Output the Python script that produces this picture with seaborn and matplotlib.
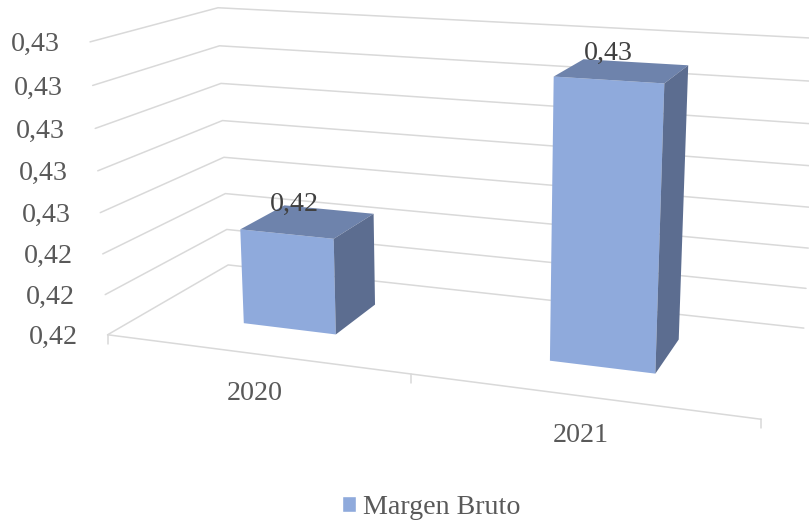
import numpy as np
import pandas as pd
import matplotlib
matplotlib.use("Agg")
import matplotlib.pyplot as plt
import seaborn as sns
from matplotlib.patches import Patch
from matplotlib.transforms import Transform

anos = ["2020", "2021"]
margen = [0.42436, 0.42852]
serie = "Margen Bruto"
niveles = [0.422, 0.423, 0.424, 0.425, 0.426, 0.427, 0.428, 0.429]
etiquetas_y = ["0,42", "0,42", "0,42", "0,43", "0,43", "0,43", "0,43", "0,43"]
etiquetas_barras = ["0,42", "0,43"]

base, paso = niveles[0], niveles[1] - niveles[0]
ancho = 0.315
fondo_bar = (0.305, 0.70)

# calibracion de la camara: (categoria, nivel, fondo) -> pixel
mundo = np.array([(-.5,0,0),(-.5,3,0),(-.5,7,0),(-.5,0,1),(-.5,3,1),(-.5,7,1),
                  (1.5,0,0),(.5,0,0),(1.5,0,1),(1.5,1,1),(1.5,2,1),(1.5,7,1)], float)
pix = np.array([(108,335),(100,212),(90,42),(228,265),(224,157),(218,8),
                (761,419),(411,374.5),(804,328),(806,288.5),(808,248),(820,38.5)], float)
A, b = [], []
for (u, t, d), (x, y) in zip(mundo, pix):
    A.append([u, t, d, 1, 0, 0, 0, 0, -x*u, -x*t, -x*d]); b.append(x)
    A.append([0, 0, 0, 0, u, t, d, 1, -y*u, -y*t, -y*d]); b.append(y)
P = np.append(np.linalg.lstsq(np.array(A), np.array(b), rcond=None)[0], 1).reshape(3, 4)


def proyectar(u, v, d):
    q = P @ np.array([u, (v - base) / paso, d, 1.0])
    return q[0] / q[2], q[1] / q[2]


class PlanoFrontal(Transform):
    """Lleva (categoria, valor) de un plano de fondo fijo a pixeles."""
    input_dims = output_dims = 2

    def __init__(self, d):
        super().__init__()
        self.d = d

    def transform_non_affine(self, values):
        return np.array([proyectar(u, v, self.d) for u, v in values])


sns.set_theme(style="white")
plt.rcParams["font.family"] = ["Liberation Serif", "DejaVu Serif"]
color_frente, color_techo, color_lado = "#8FAADC", "#6E83AC", "#5C6D90"
gris = "#D9D9D9"
tam = 20.2

df = pd.DataFrame({"Ano": anos, "Altura": np.array(margen) - base})

fig, ax = plt.subplots(figsize=(8.09, 5.22), dpi=100)
sns.barplot(data=df, x="Ano", y="Altura", color=color_frente, saturation=1,
            width=ancho, bottom=base, errorbar=None, linewidth=0, ax=ax, zorder=3, legend=False)
ax.set_position([0, 0, 1, 1])
ax.set_xlim(0, 809)
ax.set_ylim(522, 0)
ax.axis("off")

# caras frontales de seaborn, en perspectiva
for barra in ax.containers[0]:
    barra.set_transform(PlanoFrontal(fondo_bar[0]) + ax.transData)

# rejilla en las dos paredes
for n, etiqueta in zip(niveles, etiquetas_y):
    pared = [proyectar(-.5, n, 0), proyectar(-.5, n, 1), proyectar(1.5, n, 1)]
    ax.plot(*zip(*pared), color=gris, lw=1.1, zorder=1)
    x, y = pared[0]
    ax.text(x - 30, y, etiqueta, ha="right", va="center_baseline", fontsize=tam, color="#595959")

# eje frontal y sus marcas
ax.plot(*zip(proyectar(-.5, base, 0), proyectar(1.5, base, 0)), color=gris, lw=1.1, zorder=1)
for u in (-.5, .5, 1.5):
    x, y = proyectar(u, base, 0)
    ax.plot([x, x], [y, y + 9], color=gris, lw=1.1, zorder=1)

# techo y lado de cada barra
d0, d1 = fondo_bar
for i, (ano, v, etiqueta) in enumerate(zip(anos, margen, etiquetas_barras)):
    u0, u1 = i - ancho / 2, i + ancho / 2
    techo = [proyectar(u0, v, d0), proyectar(u1, v, d0), proyectar(u1, v, d1), proyectar(u0, v, d1)]
    lado = [proyectar(u1, base, d0), proyectar(u1, v, d0), proyectar(u1, v, d1), proyectar(u1, base, d1)]
    ax.fill(*zip(*techo), color=color_techo, lw=0, zorder=3)
    ax.fill(*zip(*lado), color=color_lado, lw=0, zorder=3)
    x, y = proyectar(i, v, (d0 + d1) / 2)
    ax.text(x - 14, y - 20, etiqueta, ha="center", va="center_baseline", fontsize=tam, color="#404040", zorder=4)
    x, y = proyectar(i, base, 0)
    ax.text(x + 1, y + 37, ano, ha="center", va="center_baseline", fontsize=tam, color="#595959")

ax.legend(handles=[Patch(facecolor=color_frente, label=serie)], loc="center",
          bbox_to_anchor=(431 / 809, 1 - 507.5 / 522), frameon=False, fontsize=tam,
          labelcolor="#595959", handlelength=0.5, handleheight=0.5, handletextpad=0.25)

fig.savefig("out.png", dpi=100)
